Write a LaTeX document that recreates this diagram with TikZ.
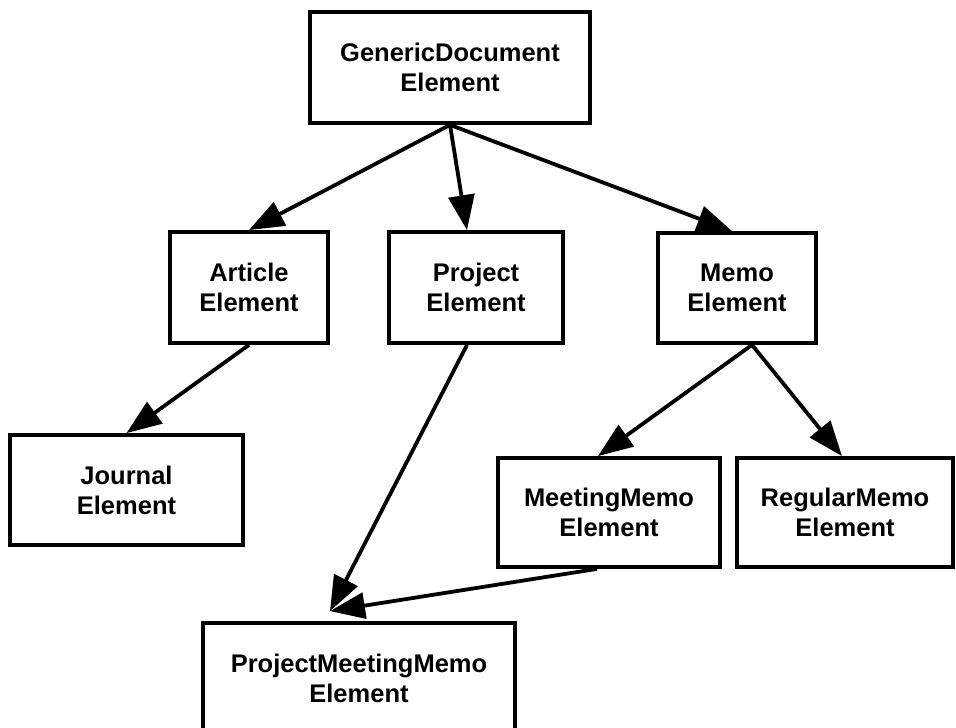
\documentclass[tikz,border=0pt]{standalone}
\usepackage{fontspec}
\setmainfont{Liberation Sans}
\usetikzlibrary{arrows.meta}
\tikzset{
  box/.style={draw=black, line width=3.8pt, fill=white, align=center, inner sep=0pt,
    font=\fontsize{25.5}{30}\selectfont\bfseries},
  link/.style={line width=3.8pt, -{Triangle[length=35pt,width=26pt]}}
}
\begin{document}
\begin{tikzpicture}[x=1pt,y=-1pt]
\useasboundingbox (0,0) rectangle (956,728);
\clip (0,0) rectangle (956,728);
\node[box, minimum width=280pt, minimum height=111pt] (gen) at (450,67.5) {GenericDocument\\Element};
\node[box, minimum width=158pt, minimum height=111pt] (art) at (249,287.5) {Article\\Element};
\node[box, minimum width=174pt, minimum height=111pt] (proj) at (476,287.5) {Project\\Element};
\node[box, minimum width=158pt, minimum height=110pt] (memo) at (737,288) {Memo\\Element};
\node[box, minimum width=233pt, minimum height=110pt] (jour) at (126.5,490) {Journal\\Element};
\node[box, minimum width=222pt, minimum height=109pt] (mm) at (609,512.5) {MeetingMemo\\Element};
\node[box, minimum width=216pt, minimum height=109pt] (rm) at (845,512.5) {RegularMemo\\Element};
\node[box, minimum width=312pt, minimum height=110pt] (pmm) at (359,678) {ProjectMeetingMemo\\Element};
\coordinate (pmmtip) at ([xshift=-29pt,yshift=10pt]pmm.north);
\draw[link] (gen.south) -- (art.north);
\draw[link] (gen.south) -- ([xshift=-9pt]proj.north);
\draw[link] (gen.south) -- ([xshift=-5pt]memo.north);
\draw[link] (art.south) -- (jour.north);
\draw[link] ([xshift=-9pt]proj.south) -- (pmmtip);
\draw[link] ([xshift=15pt]memo.south) -- ([xshift=-11pt]mm.north);
\draw[link] ([xshift=15pt]memo.south) -- ([xshift=-3pt]rm.north);
\draw[link] ([xshift=-12pt]mm.south) -- (pmmtip);
\end{tikzpicture}
\end{document}
